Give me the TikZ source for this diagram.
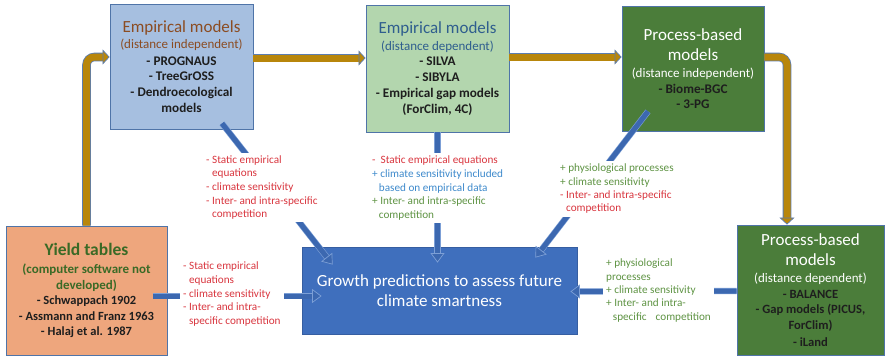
\documentclass[tikz,border=0pt]{standalone}
\usepackage{fontspec}
\setmainfont{Carlito}
\usetikzlibrary{arrows.meta,calc}
\definecolor{boxedge}{HTML}{4F74A8}
\definecolor{fillA}{HTML}{A6BFE0}
\definecolor{fillB}{HTML}{B3D6AE}
\definecolor{fillG}{HTML}{4B7D3A}
\definecolor{fillE}{HTML}{EEA67D}
\definecolor{fillF}{HTML}{3F6FBD}
\definecolor{brownc}{HTML}{8B4C22}
\definecolor{steelc}{HTML}{2F5E8E}
\definecolor{yieldc}{HTML}{3A6A26}
\definecolor{itemc}{HTML}{1E1E1E}
\definecolor{redc}{HTML}{D9363F}
\definecolor{greenc}{HTML}{5F9444}
\definecolor{bluec}{HTML}{3E8ACC}
\definecolor{arrowblue}{HTML}{3C68B0}
\definecolor{arrowedge}{HTML}{7C9FD6}
\definecolor{goldc}{HTML}{B8860B}
\definecolor{goldedge}{HTML}{5B7DB1}
\begin{document}
\begin{tikzpicture}[x=1pt,y=-1pt,
  box/.style={draw=boxedge, line width=0.8pt, inner sep=0pt, align=center,
    font=\fontsize{13.2}{15.6}\selectfont\bfseries, text=itemc},
  lbl/.style={fill=white, inner sep=3pt, align=left, anchor=north west,
    font=\fontsize{11.2}{13.6}\selectfont},
  bluearrow/.style={draw=arrowblue, line width=5pt,
    preaction={draw=arrowedge, line width=6.2pt, arrows=-, shorten >=9pt},
    -{Triangle[length=9.5pt,width=14pt,fill=arrowblue,color=arrowedge,line width=0.7pt]}},
  goldarrow/.style={draw=goldc, line width=7pt, rounded corners=8pt,
    preaction={draw=goldedge, line width=8.6pt, arrows=-, shorten >=6pt},
    -{Triangle[length=7pt,width=15pt,fill=goldc,color=goldedge,line width=0.7pt]}}
]
\useasboundingbox[fill=white] (0,0) rectangle (886,357);

% boxes
\node[box, fill=fillA, minimum width=143pt, minimum height=125pt] (A) at (181.5,66.5)
 {{\fontsize{17}{20}\selectfont\mdseries\color{brownc}Empirical models}\\[0.5pt]
  {\fontsize{13}{15}\selectfont\mdseries\color{brownc}(distance independent)}\\[1pt]
  - PROGNAUS\\ - TreeGrOSS\\ - Dendroecological\\ models};

\node[box, fill=fillB, minimum width=143pt, minimum height=127pt] (B) at (437.5,68.5)
 {{\fontsize{17}{20}\selectfont\mdseries\color{steelc}Empirical models}\\[1.5pt]
  {\fontsize{13}{15}\selectfont\mdseries\color{steelc}(distance dependent)}\\[-0.5pt]
  - SILVA\\ - SIBYLA\\[1pt] - Empirical gap models\\ (ForClim, 4C)};

\node[box, fill=fillG, minimum width=142pt, minimum height=125pt] (C) at (693,68.5)
 {{\fontsize{17}{20}\selectfont\mdseries\color{white}Process-based}\\[5pt]
  {\fontsize{17}{20}\selectfont\mdseries\color{white}models}\\[1.3pt]
  {\fontsize{13}{15}\selectfont\mdseries\color{white}(distance independent)}\\
  - Biome-BGC\\ - 3-PG};

\node[box, fill=fillG, minimum width=147pt, minimum height=130pt,
  font=\fontsize{12.6}{15.6}\selectfont\bfseries] (D) at (810.5,290)
 {{\fontsize{17}{20}\selectfont\mdseries\color{white}Process-based}\\[5pt]
  {\fontsize{17}{20}\selectfont\mdseries\color{white}models}\\[0.5pt]
  {\fontsize{13}{15}\selectfont\mdseries\color{white}(distance dependent)}\\[0.5pt]
  - BALANCE\\ - Gap models (PICUS,\\ ForClim)\\[1.5pt] - iLand};

\node[box, fill=fillE, minimum width=161pt, minimum height=129pt,
  font=\fontsize{12.5}{15.6}\selectfont\bfseries] (E) at (86.5,290.5)
 {{\fontsize{17.5}{20}\selectfont\color{yieldc}Yield tables}\\[2.5pt]
  {\fontsize{13}{15}\selectfont\color{yieldc}(computer software not}\\
  {\fontsize{13}{15}\selectfont\color{yieldc}developed)}\\
  - Schwappach 1902\\ - Assmann and Franz 1963\\ - Halaj et al. 1987};

\node[box, fill=fillF, draw=fillF!85!black, minimum width=275pt, minimum height=87pt,
  font=\fontsize{17}{20}\selectfont, text=white] (F) at (439.5,290.5)
 {Growth predictions to assess future\\ climate smartness};

% gold arrows
\draw[goldarrow] (E.north) |- ([yshift=9.5pt]A.west);
\draw[goldarrow] ([yshift=8.5pt]A.east) -- ([yshift=8.5pt]A.east -| B.west);
\draw[goldarrow] ([yshift=11.5pt]B.east) -- ([yshift=11.5pt]B.east -| C.west);
\draw[goldarrow] ([yshift=11.5pt]C.east) -| ([xshift=-23.5pt]D.north);

% blue arrows
\draw[bluearrow] ($(A.south)+(40.5,-6)$) -- ($(F.north west)+(31,18)$);
\draw[bluearrow] (B.south) -- ($(B.south |- F.north)+(0,16)$);
\draw[bluearrow] ($(C.south)+(-45,-20)$) -- ($(F.north east)+(-42,11)$);
\draw[bluearrow] ($(E.east)+(-14,5.5)$) -- ($(F.west)+(20,5.5)$);
\draw[bluearrow] ($(D.west)+(0,1)$) -- ($(F.east)+(-7,1)$);

% labels
\node[lbl] (L1) at (203,152.3)
 {\textcolor{redc}{- Static empirical}\\
  \textcolor{redc}{\hspace{5.9pt}equations}\\
  \textcolor{redc}{- climate sensitivity}\\
  \textcolor{redc}{- Inter- and intra-specific}\\
  \textcolor{redc}{\hspace{5.9pt}competition}};

\node[lbl] (L2) at (369,153)
 {\textcolor{redc}{-\ \ Static empirical equations}\\
  \textcolor{bluec}{+ climate sensitivity included}\\
  \textcolor{bluec}{\hspace{6.7pt}based on empirical data}\\
  \textcolor{greenc}{+ Inter- and intra-specific}\\
  \textcolor{greenc}{\hspace{6.7pt}competition}};

\node[lbl, font=\fontsize{11.2}{13.3}\selectfont] (L3) at (557,161)
 {\textcolor{greenc}{+ physiological processes}\\
  \textcolor{greenc}{+ climate sensitivity}\\
  \textcolor{redc}{- Inter- and intra-specific}\\
  \textcolor{redc}{\hspace{5.9pt}competition}};

\node[lbl] (L4) at (180,259)
 {\textcolor{redc}{- Static empirical}\\
  \textcolor{redc}{\hspace{5.9pt}equations}\\
  \textcolor{redc}{- climate sensitivity}\\
  \textcolor{redc}{- Inter- and intra-}\\
  \textcolor{redc}{\hspace{5.9pt}specific competition}};

\node[lbl, font=\fontsize{11.2}{13.3}\selectfont] (L5) at (603,256)
 {\textcolor{greenc}{+ physiological}\\
  \textcolor{greenc}{processes}\\
  \textcolor{greenc}{+ climate sensitivity}\\
  \textcolor{greenc}{+ Inter- and intra-}\\
  \textcolor{greenc}{\hspace{6.7pt}specific\hspace{9pt}competition}};
\end{tikzpicture}
\end{document}
